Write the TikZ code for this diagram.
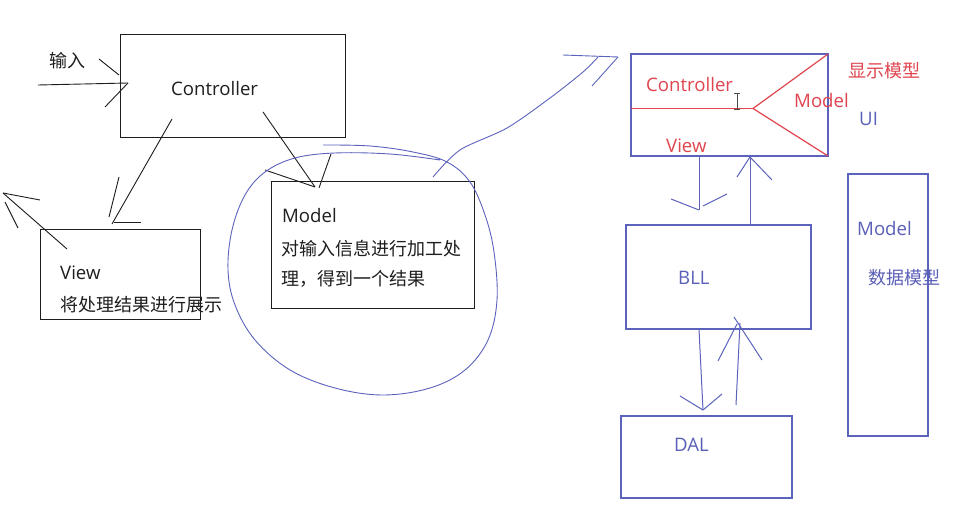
\documentclass[tikz,border=0pt]{standalone}
\usepackage{fontspec}
\setmainfont{Open Sans}
\newfontfamily\cjk{Noto Sans CJK SC}
\definecolor{inkblack}{HTML}{1E1E1E}
\definecolor{inkblue}{HTML}{5C63BC}
\definecolor{textblue}{HTML}{5A5FB8}
\definecolor{inkred}{HTML}{E0454F}
\begin{document}
\begin{tikzpicture}[x=1pt,y=-1pt,
  lbl/.style={inner sep=0pt, anchor=base west, font=\fontsize{18.6}{20}\selectfont},
  cjkl/.style={inner sep=0pt, anchor=west, font=\fontsize{18}{20}\selectfont\cjk},
  ink/.style={draw=inkblack, line width=0.9pt},
  bink/.style={draw=inkblue, line width=1pt},
  rink/.style={draw=inkred, line width=1.2pt},
  lbox/.style={draw=inkblack, line width=1pt, inner sep=0pt, outer sep=0pt},
  bbox/.style={draw=inkblue, line width=1.1pt, inner sep=0pt, outer sep=0pt},
]
\useasboundingbox[fill=white] (0,0) rectangle (956,510);

% ---------- left: boxes ----------
\node[lbox, minimum width=225pt, minimum height=103pt] (ctrl) at (232.5,86.5) {};
\node[lbox, minimum width=160pt, minimum height=90pt] (view) at (120,275) {};
\node[lbox, minimum width=203pt, minimum height=127pt] (model) at (372.5,245.5) {};

% ---------- left: texts ----------
\node[cjkl, text=inkblack] (tin) at (49,61) {输入};
\node[lbl, text=inkblack] (tctrl) at (171,96) {Controller};
\node[lbl, text=inkblack] (tview) at (60,280) {View};
\node[cjkl, text=inkblack] (tview2) at (60,305) {将处理结果进行展示};
\node[lbl, text=inkblack] (tmodel) at (282,223) {Model};
\node[cjkl, text=inkblack] (tmodel2) at (281,249) {对输入信息进行加工处};
\node[cjkl, text=inkblack] (tmodel3) at (281,279) {理，得到一个结果};

% ---------- left: connectors ----------
\coordinate (inS) at (38,85);
\coordinate (inT) at (128,83);
\draw[ink] (inS) -- (inT);
\draw[ink] (99,59) -- (119,75);
\draw[ink] (105,107) -- (inT);

\coordinate (cvS) at (172,119);
\coordinate (cvT) at (112,224);
\draw[ink] (cvS) -- (cvT);
\draw[ink] (119,177) -- (109,217);
\draw[ink] (114,222) -- (141,222);

\coordinate (voS) at (67,249);
\coordinate (voT) at (3,193);
\draw[ink] (voS) -- (voT);
\draw[ink] (voT) -- (40,200);
\draw[ink] (5,202) -- (18,228);

\coordinate (cmS) at (263,112);
\coordinate (cmT) at (315,187);
\draw[ink] (cmS) -- (cmT);
\draw[ink] (265,170) -- (cmT);
\draw[ink] (331,154) -- (319,188);

% ---------- hand-drawn loop round Model ----------
\draw[draw=inkblue, line width=0.9pt] plot[smooth, tension=0.6] coordinates {
  (323,145) (370,146) (413,152) (447,162) (470,182) (485,215) (494,252)
  (497,300) (488,340) (465,370) (430,388) (383,395) (335,388) (290,370)
  (255,340) (235,305) (228,270) (232,230) (245,195) (265,172) (295,158)
  (335,153) (390,154) (440,160)};

% ---------- arrow from loop to UI ----------
\coordinate (laS) at (433,177);
\coordinate (laT) at (618,57);
\draw[bink, line width=0.9pt] plot[smooth, tension=0.5] coordinates {
  (laS) (460,150) (507,128) (550,98) (583,72) (598,57)};
\draw[bink, line width=0.9pt] (563,55) -- (laT);
\draw[bink, line width=0.9pt] (laT) -- (592,86);

% ---------- right: boxes ----------
\node[bbox, minimum width=197pt, minimum height=102pt] (ui) at (729.5,105) {};
\node[bbox, minimum width=185pt, minimum height=104pt] (bll) at (718.5,277) {};
\node[bbox, minimum width=171pt, minimum height=82pt] (dal) at (706.5,457) {};
\node[bbox, minimum width=80pt, minimum height=262pt] (dm) at (888,305) {};

% ---------- red split inside UI ----------
\coordinate (split) at (753,108.5);
\draw[rink] (ui.west |- split) -- (split);
\draw[rink] (split) -- (ui.north east);
\draw[rink] (split) -- (ui.south east);

% ---------- right: texts ----------
\node[lbl, text=inkred] (rctrl) at (646,92) {Controller};
\node[lbl, text=inkred] (rmodel) at (794,108) {Model};
\node[lbl, text=inkred] (rview) at (666,153) {View};
\node[cjkl, text=inkred] (rshow) at (848,71) {显示模型};
\node[lbl, text=textblue] (rui) at (859,126) {UI};
\node[lbl, text=textblue] (rbll) at (678,285) {BLL};
\node[lbl, text=textblue] (rdal) at (674,452) {DAL};
\node[lbl, text=textblue] (rdm) at (857,236) {Model};
\node[cjkl, text=textblue] (rdm2) at (868,278) {数据模型};

% ---------- mouse cursor (I-beam) ----------
\draw[draw=inkblack!80, line width=0.9pt] (737,93) -- (737,109);
\draw[draw=inkblack!80, line width=0.8pt] (734,93) -- (740,93);
\draw[draw=inkblack!80, line width=0.8pt] (734,109) -- (740,109);

% ---------- right: connectors ----------
\coordinate (udS) at (699,157);
\coordinate (udT) at (699,210);
\draw[bink] (udS) -- (udT);
\draw[bink] (671,199) -- (udT);
\draw[bink] (703,206) -- (727,194);

\coordinate (buS) at (750,225);
\coordinate (buT) at (750,157);
\draw[bink] (buS) -- (buT);
\draw[bink] (737,177) -- (buT);
\draw[bink] (buT) -- (772,180);

\coordinate (bdS) at (699,329);
\coordinate (bdT) at (703,410);
\draw[bink] (bdS) -- (bdT);
\draw[bink] (680,396) -- (bdT);
\draw[bink] (bdT) -- (722,394);

\coordinate (duS) at (736,405);
\coordinate (duT) at (740,323);
\draw[bink] (duS) -- (duT);
\draw[bink] (718,361) -- (737,324);
\draw[bink] (734,317) -- (762,360);

\end{tikzpicture}
\end{document}
